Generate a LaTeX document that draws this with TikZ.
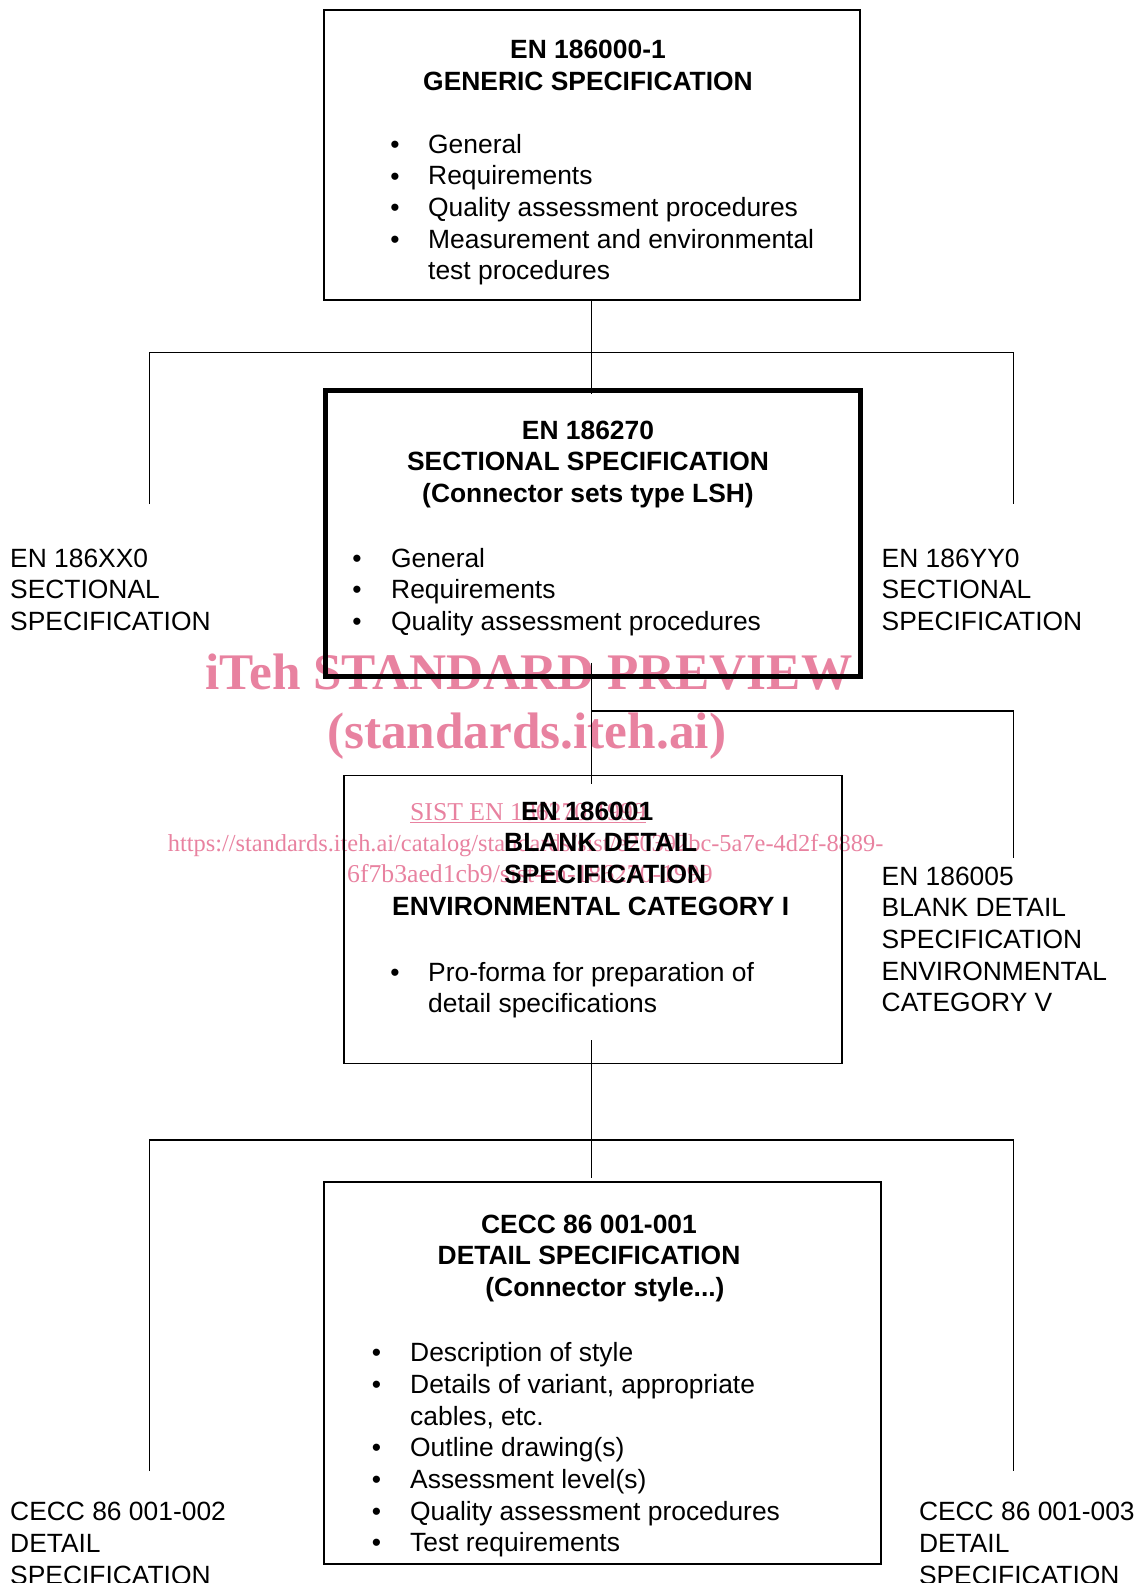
\documentclass[tikz,border=0pt]{standalone}
\usepackage{fontspec}
\setmainfont{Liberation Sans}
\newfontfamily\wmfont{Liberation Serif}
\definecolor{wm}{RGB}{232,130,160}
\newcommand{\lft}[1]{\parbox[t]{600pt}{\raggedright #1}}
\newcommand{\ctr}[1]{\parbox[t]{600pt}{\centering #1}}
\tikzset{
  box/.style={draw, line width=2pt, anchor=north west, inner sep=0pt},
  conn/.style={line width=1.5pt},
  txt/.style={anchor=base west, inner sep=0pt, font=\fontsize{26.4}{31.7}\selectfont},
  ttl/.style={anchor=base, inner sep=0pt, font=\bfseries\fontsize{26.4}{31.7}\selectfont},
  ttlw/.style={anchor=base west, inner sep=0pt, font=\bfseries\fontsize{26.4}{31.7}\selectfont},
  bul/.style={anchor=base, inner sep=0pt, font=\fontsize{26.4}{31.7}\selectfont},
  wmbig/.style={anchor=base, inner sep=0pt, text=wm, font=\wmfont\bfseries\fontsize{51.3}{51.3}\selectfont},
  wmsmall/.style={anchor=base west, inner sep=0pt, text=wm, font=\wmfont\fontsize{25.7}{25.7}\selectfont},
}
\begin{document}
\begin{tikzpicture}[x=1pt,y=-1pt]
\useasboundingbox (0,0) rectangle (1147,1583);
% watermark (behind)
\node[wmbig] (wm1) at (529,689) {iTeh STANDARD PREVIEW};
\node[wmbig] (wm2) at (526.6,748) {(standards.iteh.ai)};
\node[wmsmall] (wm3) at (410,820) {\underline{SIST EN 186270:1999}};
\node[wmsmall, font=\wmfont\fontsize{24.4}{24.4}\selectfont] (wm4) at (167.6,851) {https://standards.iteh.ai/catalog/standards/sist/e20392bc-5a7e-4d2f-8889-};
\node[wmsmall] (wm5) at (347,882.5) {6f7b3aed1cb9/sist-en-186270-1999};

% boxes
\node[box, minimum width=536pt, minimum height=290pt] (gen) at (323,9) {};
\node[box, line width=4.5pt, minimum width=535pt, minimum height=286pt] (sec) at (323,388) {};
\node[box, line width=1.6pt, minimum width=498pt, minimum height=288pt] (blk) at (343,774.5) {};
\node[box, minimum width=556.5pt, minimum height=382pt] (det) at (323,1181) {};

% junction coordinates
\coordinate (j1) at (591.7,352.4);
\coordinate (l1) at (149.4,352.4);
\coordinate (r1) at (1013.7,352.4);
\coordinate (l1e) at (149.4,504);
\coordinate (r1e) at (1013.7,504);
\coordinate (j2) at (591.7,710.8);
\coordinate (r2) at (1013.7,710.8);
\coordinate (r2e) at (1013.7,858);
\coordinate (j3) at (591.7,1140);
\coordinate (l3) at (149.4,1140);
\coordinate (r3) at (1013.7,1140);
\coordinate (l3e) at (149.4,1471);
\coordinate (r3e) at (1013.7,1471);

% connectors
\draw[conn] (gen.south -| j1) -- (j1) -- ([yshift=-6pt]sec.north -| j1);
\draw[conn] (l1e) -- (l1) -- (r1) -- (r1e);
\draw[conn] ([yshift=16pt]sec.south -| j2) -- (j2) -- ([yshift=-9pt]blk.north -| j2);
\draw[conn] (j2) -- (r2) -- (r2e);
\draw[conn] ([yshift=24pt]blk.south -| j3) -- (j3) -- ([yshift=3pt]det.north -| j3);
\draw[conn] (l3e) -- (l3) -- (r3) -- (r3e);

% generic spec
\node[ttl] (genT) at (588,58.5) {\ctr{EN 186000-1\\GENERIC SPECIFICATION}};
\node[bul] (gb1) at (395,153) {•};
\node[bul] (gb2) at (395,185) {•};
\node[bul] (gb3) at (395,216.7) {•};
\node[bul] (gb4) at (395,248.4) {•};
\node[txt] (genL) at (428,153) {\lft{General\\Requirements\\Quality assessment procedures\\Measurement and environmental\\test procedures}};

% sectional spec
\node[ttl] (secT) at (588,439) {\ctr{EN 186270\\SECTIONAL SPECIFICATION\\(Connector sets type LSH)}};
\node[bul] (sb1) at (357,567) {•};
\node[bul] (sb2) at (357,598.7) {•};
\node[bul] (sb3) at (357,630.4) {•};
\node[txt] (secL) at (391,567) {\lft{General\\Requirements\\Quality assessment procedures}};
\node[txt] (secLeft) at (10,567) {\lft{EN 186XX0\\SECTIONAL\\SPECIFICATION}};
\node[txt] (secRight) at (881.5,567) {\lft{EN 186YY0\\SECTIONAL\\SPECIFICATION}};

% blank detail spec
\node[ttlw] (blkT1) at (521,820) {EN 186001};
\node[ttlw] (blkT2) at (504,851.7) {BLANK DETAIL};
\node[ttlw] (blkT3) at (504,883.4) {SPECIFICATION};
\node[ttlw] (blkT4) at (392,915.1) {ENVIRONMENTAL CATEGORY I};
\node[bul] (bb1) at (395,981) {•};
\node[txt] (blkL) at (428,981) {\lft{Pro-forma for preparation of\\detail specifications}};
\node[txt] (blkRight) at (881.5,885) {\lft{EN 186005\\BLANK DETAIL\\SPECIFICATION\\ENVIRONMENTAL\\CATEGORY V}};

% detail spec
\node[ttl] (detT) at (589,1233) {\ctr{CECC 86 001-001\\DETAIL SPECIFICATION}};
\node[ttl] (detT3) at (605,1296.4) {(Connector style...)};
\node[bul] (db1) at (376.6,1361.6) {•};
\node[bul] (db2) at (376.6,1393.3) {•};
\node[bul] (db3) at (376.6,1456.7) {•};
\node[bul] (db4) at (376.6,1488.4) {•};
\node[bul] (db5) at (376.6,1520.1) {•};
\node[bul] (db6) at (376.6,1551.8) {•};
\node[txt] (detL) at (410,1361.6) {\lft{Description of style\\Details of variant, appropriate\\cables, etc.\\Outline drawing(s)\\Assessment level(s)\\Quality assessment procedures\\Test requirements}};
\node[txt] (detLeft) at (10,1520.6) {\lft{CECC 86 001-002\\DETAIL\\SPECIFICATION}};
\node[txt] (detRight) at (918.8,1520.6) {\lft{CECC 86 001-003\\DETAIL\\SPECIFICATION}};
\end{tikzpicture}
\end{document}
